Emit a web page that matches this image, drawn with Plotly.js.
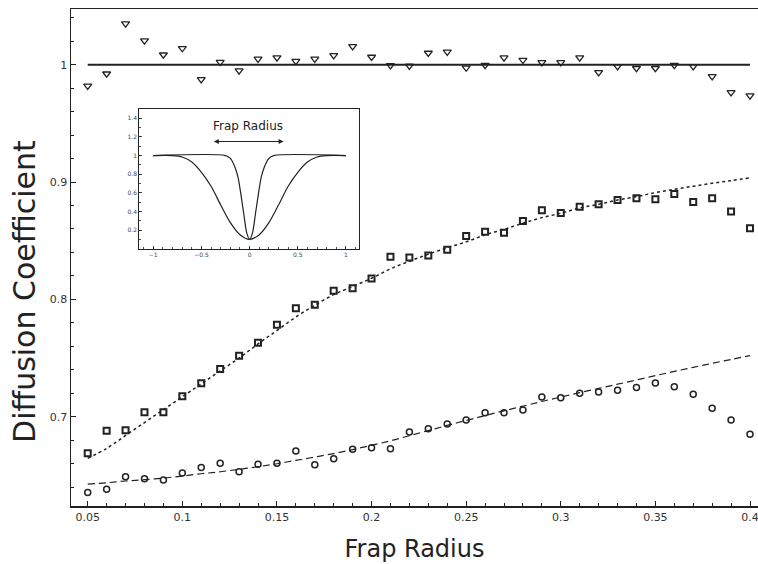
<!DOCTYPE html>
<html>
<head>
<meta charset="utf-8">
<script src="https://cdn.plot.ly/plotly-3.0.1.min.js"></script>
<style>html,body{margin:0;padding:0;background:#fff;}#chart{width:758px;height:564px;}</style>
</head>
<body>
<div id="chart"></div>
<script>
// ---- Main chart data ----
const frapRadius = [0.05,0.06,0.07,0.08,0.09,0.10,0.11,0.12,0.13,0.14,0.15,0.16,0.17,0.18,0.19,0.20,0.21,0.22,0.23,0.24,0.25,0.26,0.27,0.28,0.29,0.30,0.31,0.32,0.33,0.34,0.35,0.36,0.37,0.38,0.39,0.40];
const triangleVals = [0.982,0.9923,1.035,1.0205,1.0085,1.014,0.9875,1.0023,0.995,1.005,1.006,1.003,1.005,1.008,1.0156,1.0066,0.9995,0.999,1.010,1.011,0.9974,0.9997,1.006,1.004,1.002,1.002,1.006,0.9934,0.9986,0.997,0.997,0.9997,0.9986,0.990,0.9764,0.9736];
const squareVals = [0.6688,0.688,0.6884,0.7037,0.7037,0.7174,0.7285,0.7407,0.752,0.7631,0.7784,0.7924,0.7955,0.8074,0.8095,0.8177,0.8364,0.8356,0.8373,0.8424,0.854,0.8577,0.8569,0.8668,0.876,0.8737,0.879,0.881,0.8847,0.8862,0.8853,0.8899,0.883,0.8862,0.8748,0.8606];
const circleVals = [0.6355,0.6381,0.6489,0.6471,0.646,0.652,0.6568,0.6603,0.6531,0.6594,0.6603,0.6708,0.6591,0.6642,0.6722,0.6736,0.6727,0.687,0.6898,0.6938,0.6972,0.7034,0.7034,0.7057,0.7168,0.7162,0.72,0.7211,0.7225,0.725,0.7287,0.7256,0.7191,0.7072,0.6972,0.685];
const squareFit = [0.6645,0.673,0.684,0.695,0.706,0.717,0.728,0.739,0.750,0.762,0.7735,0.785,0.795,0.804,0.811,0.818,0.826,0.8325,0.8385,0.844,0.849,0.855,0.8597,0.8649,0.8697,0.8734,0.8779,0.881,0.8847,0.8876,0.891,0.8939,0.8964,0.899,0.9012,0.9037];
const circleFit = [0.6426,0.6437,0.6452,0.6463,0.6477,0.6494,0.6514,0.6531,0.6552,0.6574,0.6599,0.6628,0.6656,0.6686,0.672,0.6756,0.6795,0.6838,0.6882,0.6926,0.6968,0.7010,0.7050,0.7090,0.7130,0.7168,0.7205,0.7241,0.7277,0.7313,0.7350,0.7386,0.7421,0.7455,0.7488,0.7520];
const refLineX = [0.05, 0.40];
const refLineY = [1, 1];
const xTickVals = [0.05,0.1,0.15,0.2,0.25,0.3,0.35,0.4];
const yTickVals = [0.7,0.8,0.9,1];

// ---- Inset data ----
const insetWideX = [-1,-0.8,-0.7,-0.6,-0.5,-0.4,-0.3,-0.2,-0.1,0,0.1,0.2,0.3,0.4,0.5,0.6,0.7,0.8,1];
const insetWideY = [1,1,0.985,0.93,0.82,0.67,0.47,0.28,0.15,0.1,0.15,0.28,0.47,0.67,0.82,0.93,0.985,1,1];
const insetNarrowX = [-1,-0.25,-0.2,-0.15,-0.12,-0.09,-0.06,-0.03,0,0.03,0.06,0.09,0.12,0.15,0.2,0.25,1];
const insetNarrowY = [1,1,0.97,0.87,0.765,0.58,0.37,0.17,0.1,0.17,0.37,0.58,0.765,0.87,0.97,1,1];
const insetXTicks = [-1,-0.5,0,0.5,1];
const insetYTicks = [0.2,0.4,0.6,0.8,1,1.2,1.4];
const arrowFrom = [-0.387, 1.151];
const arrowTo = [0.353, 1.151];

const ink = '#222';
const FONT = 'DejaVu Sans, Liberation Sans, Arial, sans-serif';

const traces = [
  {x: refLineX, y: refLineY, mode: 'lines', line: {color: ink, width: 1.8}, hoverinfo: 'skip'},
  {x: frapRadius, y: squareFit, mode: 'lines', line: {color: ink, width: 1.5, dash: 'dot', shape: 'spline', smoothing: 1}},
  {x: frapRadius, y: circleFit, mode: 'lines', line: {color: ink, width: 1.2, dash: '7px,4px', shape: 'spline', smoothing: 1}},
  {x: frapRadius, y: triangleVals, mode: 'markers', marker: {symbol: 'triangle-down-open', size: 7, color: ink, line: {width: 1.3, color: ink}}},
  {x: frapRadius, y: squareVals, mode: 'markers', marker: {symbol: 'square-open', size: 6, color: ink, line: {width: 2, color: ink}}},
  {x: frapRadius, y: circleVals, mode: 'markers', marker: {symbol: 'circle-open', size: 6, color: ink, line: {width: 1.5, color: ink}}},
  {x: insetWideX, y: insetWideY, xaxis: 'x2', yaxis: 'y2', mode: 'lines', line: {color: ink, width: 1.2, shape: 'spline', smoothing: 0.8}},
  {x: insetNarrowX, y: insetNarrowY, xaxis: 'x2', yaxis: 'y2', mode: 'lines', line: {color: ink, width: 1.2, shape: 'spline', smoothing: 0.8}}
];

const layout = {
  width: 758, height: 564,
  margin: {l: 71, r: 0, t: 9, b: 58, pad: 0},
  paper_bgcolor: '#fff', plot_bgcolor: '#fff',
  showlegend: false,
  font: {family: FONT, color: ink},
  xaxis: {
    range: [0.04117, 0.40423], tickvals: xTickVals, ticks: 'inside', ticklen: 5, tickwidth: 1, tickcolor: ink,
    showline: true, linecolor: ink, linewidth: 1.5, mirror: true, showgrid: false, zeroline: false,
    minor: {tick0: 0, dtick: 0.01, ticks: 'inside', ticklen: 3, tickwidth: 1, tickcolor: ink, showgrid: false},
    tickfont: {family: FONT, size: 11, color: '#333'},
    ticklabeloverflow: 'allow',
    title: {text: 'Frap Radius', font: {family: FONT, size: 24, color: ink}, standoff: 17},
    automargin: false
  },
  yaxis: {
    range: [0.6239, 1.0475], tickvals: yTickVals, ticks: 'inside', ticklen: 5, tickwidth: 1, tickcolor: ink,
    showline: true, linecolor: ink, linewidth: 1.5, mirror: true, showgrid: false, zeroline: false,
    minor: {tick0: 0, dtick: 0.02, ticks: 'inside', ticklen: 3, tickwidth: 1, tickcolor: ink, showgrid: false},
    tickfont: {family: FONT, size: 11, color: '#333'},
    automargin: false
  },
  xaxis2: {
    domain: [0.0994, 0.4192], anchor: 'y2', range: [-1.145, 1.135], tickvals: insetXTicks,
    ticks: 'inside', ticklen: 3, tickwidth: 0.8, tickcolor: ink,
    showline: true, linecolor: ink, linewidth: 1, mirror: true, showgrid: false, zeroline: false,
    minor: {dtick: 0.1, tick0: 0, ticks: 'inside', ticklen: 2, tickwidth: 0.8, tickcolor: ink, showgrid: false},
    tickfont: {family: FONT, size: 6, color: '#444'}
  },
  yaxis2: {
    domain: [0.5177, 0.7988], anchor: 'x2', range: [0, 1.5], tickvals: insetYTicks,
    ticks: 'inside', ticklen: 3, tickwidth: 0.8, tickcolor: ink,
    showline: true, linecolor: ink, linewidth: 1, mirror: true, showgrid: false, zeroline: false,
    minor: {dtick: 0.1, tick0: 0, ticks: 'inside', ticklen: 2, tickwidth: 0.8, tickcolor: ink, showgrid: false},
    tickfont: {family: FONT, size: 6, color: '#444'}
  },
  shapes: [
    {type: 'rect', xref: 'x2 domain', yref: 'y2 domain', x0: 0, x1: 1, y0: 0, y1: 1, fillcolor: '#fff', line: {width: 0}, layer: 'below'}
  ],
  annotations: [
    {text: 'Diffusion Coefficient', textangle: -90, xref: 'paper', yref: 'paper', x: -0.067, y: 0.4326,
     xanchor: 'center', yanchor: 'middle', showarrow: false, font: {family: FONT, size: 30, color: ink}},
    {text: 'Frap Radius', xref: 'x2', yref: 'y2', x: -0.02, y: 1.318, showarrow: false,
     xanchor: 'center', yanchor: 'middle', font: {family: FONT, size: 12, color: ink}},
    {text: '', xref: 'x2', yref: 'y2', x: arrowTo[0], y: arrowTo[1], axref: 'x2', ayref: 'y2',
     ax: arrowFrom[0], ay: arrowFrom[1], showarrow: true, arrowhead: 2, arrowside: 'end+start',
     arrowsize: 1, arrowwidth: 1, arrowcolor: ink}
  ]
};

Plotly.newPlot('chart', traces, layout, {displayModeBar: false, staticPlot: true});
</script>
</body>
</html>
